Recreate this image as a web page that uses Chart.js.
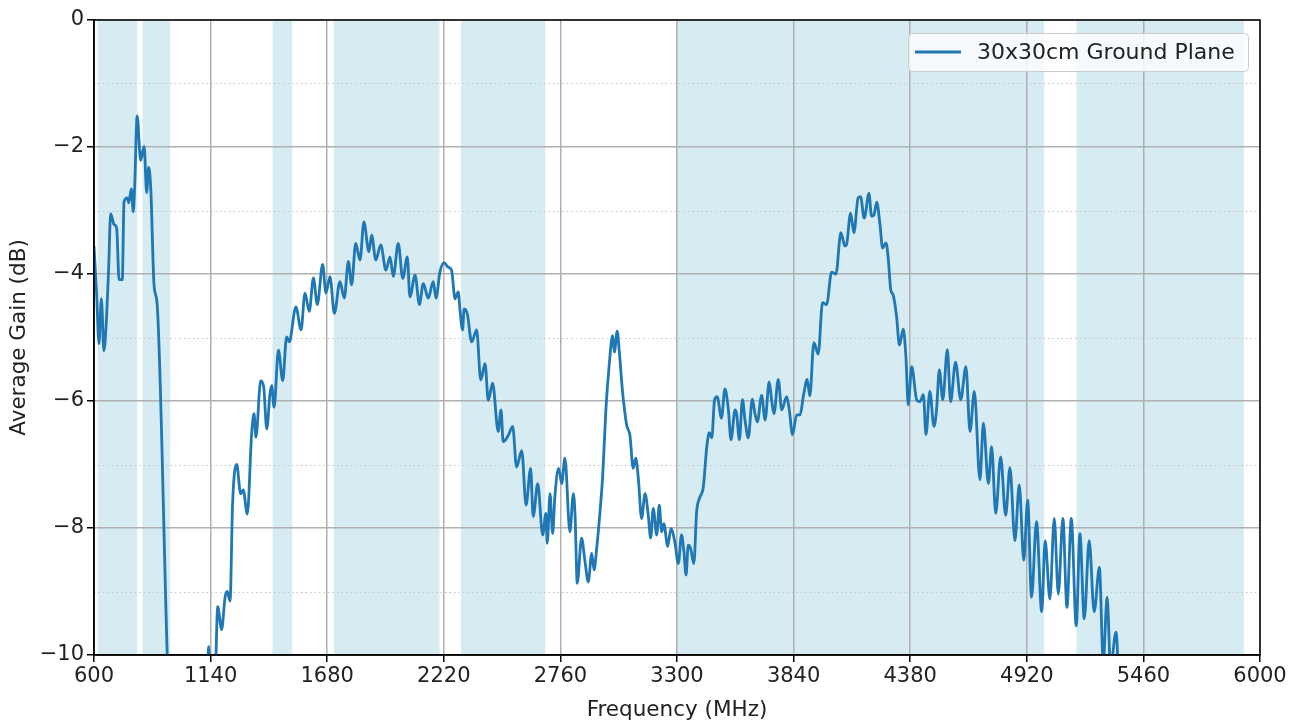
<!DOCTYPE html>
<html>
<head>
<meta charset="utf-8">
<title>Average Gain</title>
<script src="https://cdn.jsdelivr.net/npm/chart.js@4.4.1/dist/chart.umd.min.js"></script>
<style>
  html, body { margin: 0; padding: 0; background: #fff; }
  #wrap { width: 1302px; height: 727px; }
</style>
</head>
<body>
<div id="wrap"><canvas id="gainChart" width="1302" height="727"></canvas></div>
<script>
// Frequency points (MHz)
const freq = [
  600, 612, 623, 634, 646, 659, 668, 677, 693, 705, 716, 731, 739, 754, 761, 773, 782, 788,
  800, 816, 832, 844, 853, 863, 878, 893, 950, 1000, 1100, 1125, 1131, 1137, 1160,
  1173, 1191, 1207, 1217, 1230, 1242, 1261, 1279, 1291, 1310, 1330, 1341, 1350, 1372, 1386,
  1400, 1415, 1423, 1434, 1454, 1474, 1492, 1504, 1535, 1559, 1577, 1597, 1616, 1634, 1659,
  1674, 1693, 1713, 1739, 1759, 1778, 1793, 1812, 1832, 1850, 1873, 1886, 1905, 1928, 1952,
  1971, 1986, 2009, 2030, 2051, 2063, 2087, 2107, 2125, 2148, 2171, 2184, 2202, 2221, 2239,
  2256, 2272, 2287, 2295, 2307, 2314, 2329, 2349, 2372, 2391, 2411, 2426, 2446, 2472, 2485,
  2495, 2519, 2539, 2557, 2581, 2601, 2622, 2634, 2655, 2678, 2693, 2699, 2712, 2724, 2735,
  2752, 2766, 2781, 2804, 2820, 2828, 2838, 2858, 2874, 2889, 2905, 2916, 2928, 2940, 2956,
  2971, 2986, 3002, 3010, 3023, 3033, 3048, 3067, 3082, 3097, 3109, 3121, 3136, 3152, 3167,
  3178, 3190, 3206, 3218, 3229, 3239, 3257, 3272, 3290, 3306, 3321, 3332, 3342, 3352, 3363,
  3378, 3391, 3403, 3422, 3438, 3450, 3461, 3474, 3486, 3506, 3522, 3538, 3550, 3569, 3576,
  3589, 3603, 3615, 3630, 3649, 3661, 3672, 3692, 3708, 3727, 3738, 3749, 3769, 3785, 3808,
  3820, 3835, 3854, 3870, 3885, 3903, 3915, 3934, 3954, 3974, 3993, 4016, 4036, 4059, 4078,
  4085, 4104, 4119, 4139, 4150, 4167, 4189, 4201, 4212, 4225, 4240, 4252, 4268, 4279, 4290,
  4301, 4317, 4330, 4348, 4360, 4371, 4387, 4410, 4425, 4441, 4453, 4471, 4490, 4502, 4515,
  4531, 4552, 4567, 4590, 4614, 4638, 4657, 4677, 4703, 4719, 4742, 4757, 4776, 4799, 4822,
  4842, 4865, 4885, 4906, 4924, 4942, 4965, 4989, 5005, 5027, 5047, 5066, 5087, 5106, 5126,
  5149, 5166, 5186, 5209, 5232, 5256, 5274, 5292, 5308, 5333, 5350
];

// Average gain (dB) at each frequency point
const gain = [
  -3.56, -4.3, -5.10, -4.39, -5.21, -4.62, -3.9, -3.05, -3.22, -3.28, -4.09, -4.09, -2.86, -2.80, -2.88, -2.66, -3.02, -2.66,
  -1.51, -2.21, -1.99, -2.72, -2.32, -2.66, -4.17, -4.5, -11.0, -12.0, -11.0, -10.3, -9.87, -10.3, -10.4,
  -9.24, -9.6, -9.09, -9.0, -9.15, -7.6, -7.0, -7.46, -7.4, -7.78, -6.52, -6.2, -6.57, -5.68, -5.78,
  -6.44, -5.89, -5.76, -6.1, -5.2, -5.68, -4.99, -5.07, -4.52, -4.88, -4.3, -4.59, -4.06, -4.48, -3.85,
  -4.3, -4.04, -4.62, -4.12, -4.38, -3.8, -4.17, -3.52, -3.78, -3.18, -3.65, -3.39, -3.78, -3.54, -3.94,
  -3.73, -4.04, -3.52, -4.07, -3.73, -4.36, -4.02, -4.48, -4.15, -4.38, -4.12, -4.38, -3.97, -3.82, -3.89,
  -3.94, -4.39, -4.28, -4.57, -4.88, -4.55, -4.63, -5.07, -4.88, -5.67, -5.41, -5.99, -5.72, -6.48, -6.14,
  -6.64, -6.54, -6.4, -7.04, -6.78, -7.64, -7.06, -7.82, -7.3, -8.11, -7.77, -8.24, -7.46, -8.09, -7.48,
  -7.06, -7.3, -6.9, -8.06, -7.46, -7.8, -8.87, -8.16, -8.53, -8.85, -8.4, -8.66, -8.32, -7.88, -7.17,
  -6.12, -5.43, -4.97, -5.23, -4.9, -5.23, -5.86, -6.38, -6.54, -7.06, -6.9, -7.22, -7.85, -7.46, -7.8,
  -8.16, -7.69, -8.11, -7.64, -8.06, -7.93, -8.29, -8.01, -8.22, -8.56, -8.11, -8.37, -8.74, -8.27, -8.32,
  -8.56, -7.74, -7.54, -7.35, -6.72, -6.5, -6.58, -5.98, -5.93, -6.27, -5.81, -6.14, -6.61, -6.14, -6.2,
  -6.61, -5.98, -6.3, -6.58, -5.97, -6.2, -6.33, -5.91, -6.3, -5.7, -5.98, -6.2, -5.66, -6.14, -5.93,
  -6.14, -6.53, -6.22, -6.22, -5.93, -5.66, -5.92, -5.08, -5.26, -4.45, -4.48, -3.97, -4.0, -3.35, -3.56,
  -3.54, -3.04, -3.35, -2.8, -2.78, -3.12, -2.73, -3.09, -3.07, -2.87, -3.22, -3.59, -3.51, -3.78, -4.25,
  -4.33, -4.67, -5.12, -4.87, -5.3, -6.06, -5.46, -5.98, -6.01, -5.9, -6.53, -5.85, -6.4, -6.14, -5.51,
  -5.98, -5.19, -6.01, -5.39, -5.98, -5.46, -6.48, -5.85, -7.24, -6.35, -7.3, -6.72, -7.77, -6.88, -7.8,
  -7.05, -8.2, -7.32, -8.51, -7.56, -9.09, -7.9, -9.32, -8.2, -9.12, -7.85, -9.04, -7.85, -9.25, -7.85,
  -9.54, -8.09, -9.43, -8.2, -9.32, -8.62, -10.1, -9.09, -10.2, -9.64, -10.8
];

// Shaded frequency bands (MHz)
const bandStart = [617, 824, 1427, 1710, 2300, 3300, 5150];
const bandEnd = [800, 953, 1518, 2200, 2690, 5000, 5925];

const xTicks = [600, 1140, 1680, 2220, 2760, 3300, 3840, 4380, 4920, 5460, 6000];
const yTicks = [-10, -8, -6, -4, -2, 0];
const yMinor = [-9, -7, -5, -3, -1];

const seriesLabel = '30x30cm Ground Plane';
const lineColor = '#1f77b4';
const fontFamily = '"DejaVu Sans", sans-serif';

// Fonds, grille secondaire, cadre et légende
const decorations = {
  id: 'decorations',
  beforeDraw(chart) {
    const { ctx, chartArea: a, scales: { x, y } } = chart;
    ctx.save();
    ctx.fillStyle = 'rgba(173, 216, 230, 0.5)';
    bandStart.forEach((s, i) => {
      const x0 = x.getPixelForValue(s);
      const x1 = x.getPixelForValue(bandEnd[i]);
      ctx.fillRect(x0, a.top, x1 - x0, a.bottom - a.top);
    });
    ctx.strokeStyle = '#c4c4c4';
    ctx.lineWidth = 1;
    ctx.setLineDash([1.5, 3]);
    yMinor.forEach(v => {
      const py = Math.round(y.getPixelForValue(v)) + 0.5;
      ctx.beginPath();
      ctx.moveTo(a.left, py);
      ctx.lineTo(a.right, py);
      ctx.stroke();
    });
    ctx.restore();
  },
  afterDatasetsDraw(chart) {
    const { ctx, chartArea: a } = chart;
    ctx.save();
    ctx.strokeStyle = '#000';
    ctx.lineWidth = 1.5;
    ctx.strokeRect(a.left, a.top, a.right - a.left, a.bottom - a.top);

    // légende
    const w = 340, h = 38;
    const bx = a.right - 12 - w, by = a.top + 13;
    ctx.beginPath();
    ctx.roundRect(bx + 0.5, by + 0.5, w, h, 4);
    ctx.fillStyle = 'rgba(255, 255, 255, 0.8)';
    ctx.fill();
    ctx.strokeStyle = '#cccccc';
    ctx.lineWidth = 1;
    ctx.stroke();
    ctx.beginPath();
    ctx.moveTo(bx + 7, by + h / 2);
    ctx.lineTo(bx + 53, by + h / 2);
    ctx.strokeStyle = lineColor;
    ctx.lineWidth = 3;
    ctx.stroke();
    ctx.fillStyle = '#222';
    ctx.font = '22px ' + fontFamily;
    ctx.textBaseline = 'middle';
    ctx.fillText(seriesLabel, bx + 69, by + h / 2 + 1);
    ctx.restore();
  }
};

const minus = v => (v < 0 ? '\u2212' + Math.abs(v) : String(v));

new Chart(document.getElementById('gainChart'), {
  type: 'line',
  data: {
    datasets: [{
      label: seriesLabel,
      data: freq.map((f, i) => ({ x: f, y: gain[i] })),
      borderColor: lineColor,
      borderWidth: 2.8,
      pointRadius: 0,
      cubicInterpolationMode: 'monotone',
      clip: 0
    }]
  },
  options: {
    responsive: false,
    devicePixelRatio: 1,
    animation: false,
    layout: { padding: { left: 0, top: 20, right: 42, bottom: 0 } },
    plugins: { legend: { display: false }, tooltip: { enabled: false } },
    scales: {
      x: {
        type: 'linear',
        min: 600,
        max: 6000,
        afterBuildTicks: s => { s.ticks = xTicks.map(v => ({ value: v })); },
        afterFit: s => { s.height = 72; },
        grid: { color: '#b0b0b0', lineWidth: 1.5, tickColor: '#000', tickLength: 7, tickWidth: 1.5 },
        border: { color: '#000', width: 1.5 },
        ticks: { color: '#222', font: { family: fontFamily, size: 21 }, padding: 2, maxRotation: 0, autoSkip: false, callback: v => String(v) },
        title: { display: true, text: 'Frequency (MHz)', color: '#222', font: { family: fontFamily, size: 21.5 }, padding: { bottom: 4 } }
      },
      y: {
        min: -10,
        max: 0,
        afterBuildTicks: s => { s.ticks = yTicks.map(v => ({ value: v })); },
        afterFit: s => { s.width = 94; },
        grid: { color: '#b0b0b0', lineWidth: 1.5, tickColor: '#000', tickLength: 7, tickWidth: 1.5 },
        border: { color: '#000', width: 1.5 },
        ticks: { color: '#222', font: { family: fontFamily, size: 21 }, padding: 3, callback: minus },
        title: { display: true, text: 'Average Gain (dB)', color: '#222', font: { family: fontFamily, size: 21.5 }, padding: { top: 7 } }
      }
    }
  },
  plugins: [decorations]
});
</script>
</body>
</html>
